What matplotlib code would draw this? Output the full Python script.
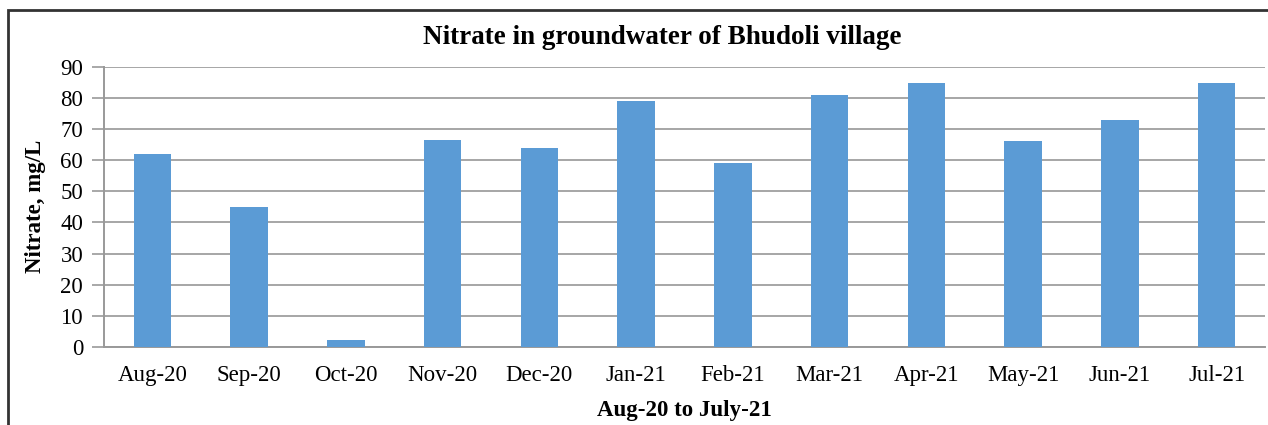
import matplotlib.pyplot as plt
from matplotlib.patches import Rectangle

months = ['Aug-20', 'Sep-20', 'Oct-20', 'Nov-20', 'Dec-20', 'Jan-21',
          'Feb-21', 'Mar-21', 'Apr-21', 'May-21', 'Jun-21', 'Jul-21']
nitrate = [62, 45, 2.3, 66.6, 64, 79, 59, 81, 84.7, 66, 73, 84.7]
yticks = list(range(0, 91, 10))

plt.rcParams['font.family'] = ['Liberation Serif', 'DejaVu Serif']

fig = plt.figure(figsize=(12.68, 4.25), dpi=100)
ax = fig.add_axes([104 / 1268, 1 - 347 / 425, (1265 - 104) / 1268, (347 - 66.7) / 425])

x = range(len(months))
ax.bar(x, nitrate, width=0.39, color='#5B9BD5', zorder=3)

ax.set_xlim(-0.5, len(months) - 0.5)
ax.set_ylim(0, 90)
ax.set_yticks(yticks)
ax.set_xticks(list(x))
ax.set_xticklabels(months)
ax.tick_params(axis='x', length=0, labelsize=16.5, pad=13)
ax.tick_params(axis='y', length=9, width=1.2, color='#999999', labelsize=16.5, pad=6)
ax.grid(axis='y', color='#A6A6A6', linewidth=1.4, zorder=0)

for s in ['top', 'right']:
    ax.spines[s].set_visible(False)
for s in ['left', 'bottom']:
    ax.spines[s].set_color('#999999')
    ax.spines[s].set_linewidth(1.4)

ax.set_title('Nitrate in groundwater of Bhudoli village', fontsize=19.5,
             fontweight='bold', pad=16, x=0.481)
ax.set_ylabel('Nitrate, mg/L', fontsize=16.5, fontweight='bold', labelpad=10)
ax.set_xlabel('Aug-20 to July-21', fontsize=16.5, fontweight='bold', labelpad=10)

# outer chart border (cut off on the right and bottom in the original)
fig.patches.append(Rectangle((8 / 1268, -0.05), 1.2, 1 - 10 / 425 + 0.05,
                             transform=fig.transFigure, fill=False,
                             edgecolor='#333333', linewidth=2))

fig.savefig('out.png', dpi=100)
